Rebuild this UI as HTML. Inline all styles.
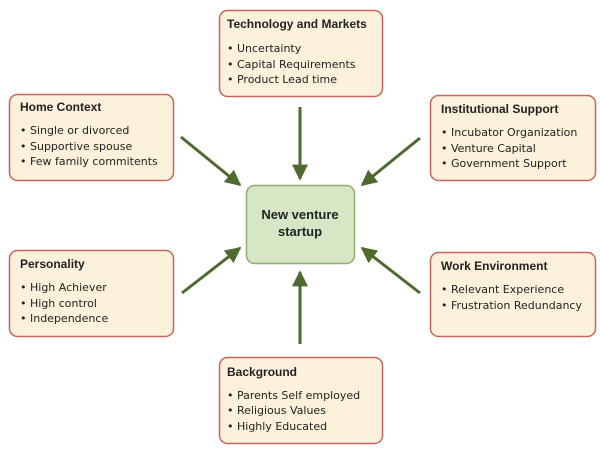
<!DOCTYPE html>
<html><head><style>body{margin:0;background:#fff}svg{display:block}text{font-family:"DejaVu Sans","Liberation Sans",sans-serif;font-size:11px;fill:#222}.t{font-family:"Liberation Sans",sans-serif;font-weight:bold;font-size:12px}.c{font-family:"Liberation Sans",sans-serif;font-weight:bold;font-size:13px}</style></head><body>
<svg width="600" height="453" viewBox="0 0 600 453" xmlns="http://www.w3.org/2000/svg">
<defs>
<marker id="b" viewBox="0 0 10 10" markerWidth="16" markerHeight="16" refX="9" refY="5" orient="auto" markerUnits="userSpaceOnUse"><path d="M0,0 L10,5 L0,10 Z" fill="#4e6a2e"/></marker></defs>
<g fill="#fcf2dc" stroke="#c8645c" stroke-width="1.5">
<rect x="219.5" y="10.5" width="163" height="86" rx="8"/>
<rect x="9.5" y="94.5" width="164" height="86" rx="8"/>
<rect x="430.5" y="95.5" width="165" height="85" rx="8"/>
<rect x="9.5" y="250.5" width="164" height="86" rx="8"/>
<rect x="430.5" y="252.5" width="165" height="84" rx="8"/>
<rect x="219.5" y="357.5" width="163" height="86" rx="8"/>
</g>
<rect x="246.5" y="185.5" width="108" height="78" rx="8" fill="#d7e6c4" stroke="#8fae70" stroke-width="1.5"/>
<g stroke="#4e6a2e" stroke-width="3" marker-end="url(#b)">
<line x1="300" y1="107" x2="300" y2="179"/>
<line x1="181" y1="137" x2="240" y2="185"/>
<line x1="420" y1="138" x2="362" y2="185"/>
<line x1="182" y1="293" x2="240" y2="248"/>
<line x1="420" y1="293" x2="362" y2="248"/>
<line x1="300" y1="344" x2="300" y2="272"/>
</g>
<text class="c" x="300" y="219" text-anchor="middle">New venture</text>
<text class="c" x="300" y="236" text-anchor="middle">startup</text>
<g>
<text class="t" x="227" y="28">Technology and Markets</text>
<text x="227" y="52">• Uncertainty</text><text x="227" y="68">• Capital Requirements</text><text x="227" y="83">• Product Lead time</text>
<text class="t" x="20" y="111">Home Context</text>
<text x="20" y="134">• Single or divorced</text><text x="20" y="150">• Supportive spouse</text><text x="20" y="165">• Few family commitents</text>
<text class="t" x="441" y="113">Institutional Support</text>
<text x="441" y="136">• Incubator Organization</text><text x="441" y="152">• Venture Capital</text><text x="441" y="167">• Government Support</text>
<text class="t" x="20" y="268">Personality</text>
<text x="20" y="291">• High Achiever</text><text x="20" y="307">• High control</text><text x="20" y="322">• Independence</text>
<text class="t" x="441" y="270">Work Environment</text>
<text x="441" y="293">• Relevant Experience</text><text x="441" y="309">• Frustration Redundancy</text>
<text class="t" x="227" y="376">Background</text>
<text x="227" y="399">• Parents Self employed</text><text x="227" y="414">• Religious Values</text><text x="227" y="430">• Highly Educated</text>
</g>
</svg>
</body></html>
